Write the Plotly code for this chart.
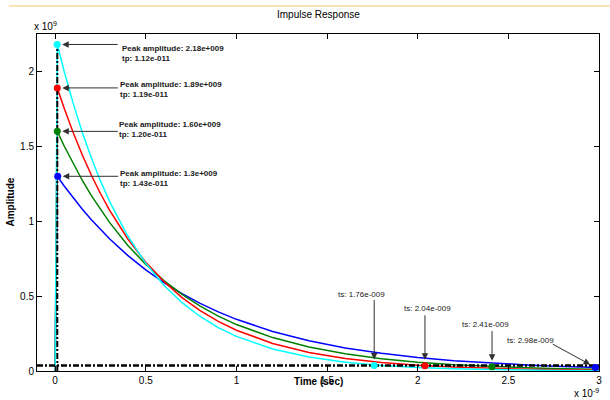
import plotly.graph_objects as go

# time axis in units of 1e-9 s, amplitude in units of 1e9
time_ns = [0, 0.012, 0.05, 0.1, 0.15, 0.2, 0.25, 0.3, 0.4, 0.5, 0.6, 0.7, 0.8, 0.9,
           1.0, 1.2, 1.4, 1.6, 1.8, 2.0, 2.2, 2.4, 2.6, 2.8, 3.0]
cyan_amp = [0, 2.18, 2.000, 1.785, 1.593, 1.422, 1.269, 1.133, 0.903, 0.719, 0.573, 0.456,
            0.364, 0.290, 0.231, 0.147, 0.093, 0.059, 0.0375, 0.0238, 0.0151, 0.0096,
            0.0061, 0.0039, 0.0025]
red_amp = [0, 1.89, 1.754, 1.590, 1.442, 1.307, 1.185, 1.074, 0.883, 0.726, 0.597, 0.490,
           0.403, 0.331, 0.272, 0.184, 0.124, 0.084, 0.0567, 0.0383, 0.0259, 0.0175,
           0.0118, 0.0080, 0.0054]
green_amp = [0, 1.60, 1.502, 1.383, 1.272, 1.171, 1.078, 0.992, 0.840, 0.712, 0.603, 0.511,
             0.433, 0.366, 0.310, 0.223, 0.160, 0.115, 0.0823, 0.0590, 0.0424, 0.0304,
             0.0218, 0.0156, 0.0112]
blue_amp = [0, 1.30, 1.235, 1.155, 1.080, 1.010, 0.944, 0.883, 0.772, 0.675, 0.590, 0.516,
            0.451, 0.395, 0.345, 0.264, 0.202, 0.154, 0.118, 0.0902, 0.0690, 0.0527,
            0.0403, 0.0308, 0.0236]

series_names = ["sys4", "sys3", "sys2", "sys1"]
series_colors = ["#0000ff", "#008000", "#ff0000", "#00ffff"]
series_values = [blue_amp, green_amp, red_amp, cyan_amp]

# characteristics (same order as above)
peak_amp = [1.30, 1.60, 1.89, 2.18]
peak_time = [0.0143, 0.0120, 0.0119, 0.0112]
peak_text = ["Peak amplitude: 1.3e+009<br>tp: 1.43e-011",
             "Peak amplitude: 1.60e+009<br>tp: 1.20e-011",
             "Peak amplitude: 1.89e+009<br>tp: 1.19e-011",
             "Peak amplitude: 2.18e+009<br>tp: 1.12e-011"]
settle_time = [2.98, 2.41, 2.04, 1.76]
settle_amp = [0.024, 0.029, 0.035, 0.037]
settle_text = ["ts: 2.98e-009", "ts: 2.41e-009", "ts: 2.04e-009", "ts: 1.76e-009"]

band_level = 0.036
x_ticks = [0, 0.5, 1, 1.5, 2, 2.5, 3]
x_tick_labels = ["0", "0.5", "1", "1.5", "2", "2.5", "3"]
y_ticks = [0, 0.5, 1, 1.5, 2]
y_tick_labels = ["0", "0.5", "1", "1.5", "2"]

# label placement (data coords)
peak_label_x = [0.348, 0.342, 0.348, 0.359]
peak_label_y = [1.282, 1.613, 1.881, 2.122]
settle_label_x = [2.621, 2.374, 2.055, 1.688]
settle_label_y = [0.205, 0.312, 0.419, 0.513]
settle_arrow_ax = [-44, 0, 0, 0]
settle_arrow_ay = [-24, -37, -52, -67]

fig = go.Figure()
for name, col, vals in zip(series_names, series_colors, series_values):
    fig.add_trace(go.Scatter(x=time_ns, y=vals, mode="lines", name=name,
                             line=dict(color=col, width=1.5), hoverinfo="skip"))

dashdot = "6px,2px,2px,2px"
fig.add_trace(go.Scatter(x=[-0.1, 3.0], y=[band_level, band_level], mode="lines",
                         line=dict(color="black", width=2.5, dash=dashdot), hoverinfo="skip"))
fig.add_trace(go.Scatter(x=[0.012, 0.012], y=[0, max(peak_amp)], mode="lines",
                         line=dict(color="black", width=2, dash=dashdot), hoverinfo="skip"))

for col, tp, pa, ts, sa in zip(series_colors, peak_time, peak_amp, settle_time, settle_amp):
    fig.add_trace(go.Scatter(x=[tp, ts], y=[pa, sa], mode="markers",
                             marker=dict(color=col, size=7, line=dict(width=0)),
                             hoverinfo="skip"))

annotations = []
afont = dict(family="Liberation Sans, Arial", size=8, color="#202020")
for tp, pa, txt, lx, ly in zip(peak_time, peak_amp, peak_text, peak_label_x, peak_label_y):
    annotations.append(dict(x=tp, y=pa, xref="x", yref="y", text="", showarrow=True,
                            ax=62, ay=0, arrowhead=2, arrowsize=1.3, arrowwidth=1,
                            arrowcolor="#303030", standoff=5))
    annotations.append(dict(x=lx, y=ly, xref="x", yref="y", text="<b>" + txt.replace("<br>", "</b><br><b>") + "</b>",
                            showarrow=False, xanchor="left", yanchor="middle", align="left",
                            font=afont))
for ts, sa, txt, lx, ly, ax, ay in zip(settle_time, settle_amp, settle_text, settle_label_x,
                                       settle_label_y, settle_arrow_ax, settle_arrow_ay):
    annotations.append(dict(x=ts, y=sa, xref="x", yref="y", text="", showarrow=True,
                            ax=ax, ay=ay, arrowhead=2, arrowsize=1.3, arrowwidth=1,
                            arrowcolor="#303030", standoff=6))
    annotations.append(dict(x=lx, y=ly, xref="x", yref="y", text=txt, showarrow=False,
                            xanchor="center", yanchor="middle", font=afont))

lfont = dict(family="Liberation Sans, Arial", size=10, color="black")
annotations += [
    dict(x=0.5, y=1, xref="paper", yref="paper", yshift=20, text="Impulse Response",
         showarrow=False, font=lfont, xanchor="center", yanchor="middle"),
    dict(x=0, y=1, xref="paper", yref="paper", yshift=8, xshift=-5, text="x 10<sup>9</sup>",
         showarrow=False, font=lfont, xanchor="left", yanchor="middle"),
    dict(x=1, y=0, xref="paper", yref="paper", yshift=-22, xshift=2, text="x 10<sup>-9</sup>",
         showarrow=False, font=lfont, xanchor="right", yanchor="middle"),
    dict(x=0.5, y=0, xref="paper", yref="paper", yshift=-10, text="<b>Time (sec)</b>",
         showarrow=False, font=lfont, xanchor="center", yanchor="middle"),
    dict(x=0, y=0.5, xref="paper", yref="paper", xshift=-27, text="<b>Amplitude</b>",
         showarrow=False, font=lfont, textangle=-90, xanchor="center", yanchor="middle"),
]

axis_common = dict(showline=True, linecolor="black", linewidth=1, mirror="allticks",
                   ticks="inside", ticklen=5, tickcolor="black", showgrid=False,
                   zeroline=False, tickfont=dict(family="Liberation Sans, Arial", size=10,
                                                 color="black"))
fig.update_layout(
    width=610, height=400,
    margin=dict(l=37, r=8, t=34, b=29),
    paper_bgcolor="white", plot_bgcolor="white",
    showlegend=False,
    xaxis=dict(range=[-0.1, 3.0], tickvals=x_ticks, ticktext=x_tick_labels, **axis_common),
    yaxis=dict(range=[0, 2.25], tickvals=y_ticks, ticktext=y_tick_labels, **axis_common),
    annotations=annotations,
    shapes=[dict(type="line", xref="paper", yref="paper", x0=-0.05, x1=1.02,
                 y0=1.083, y1=1.083, line=dict(color="#fbe2b5", width=2))],
)
fig.write_html("out.html")
